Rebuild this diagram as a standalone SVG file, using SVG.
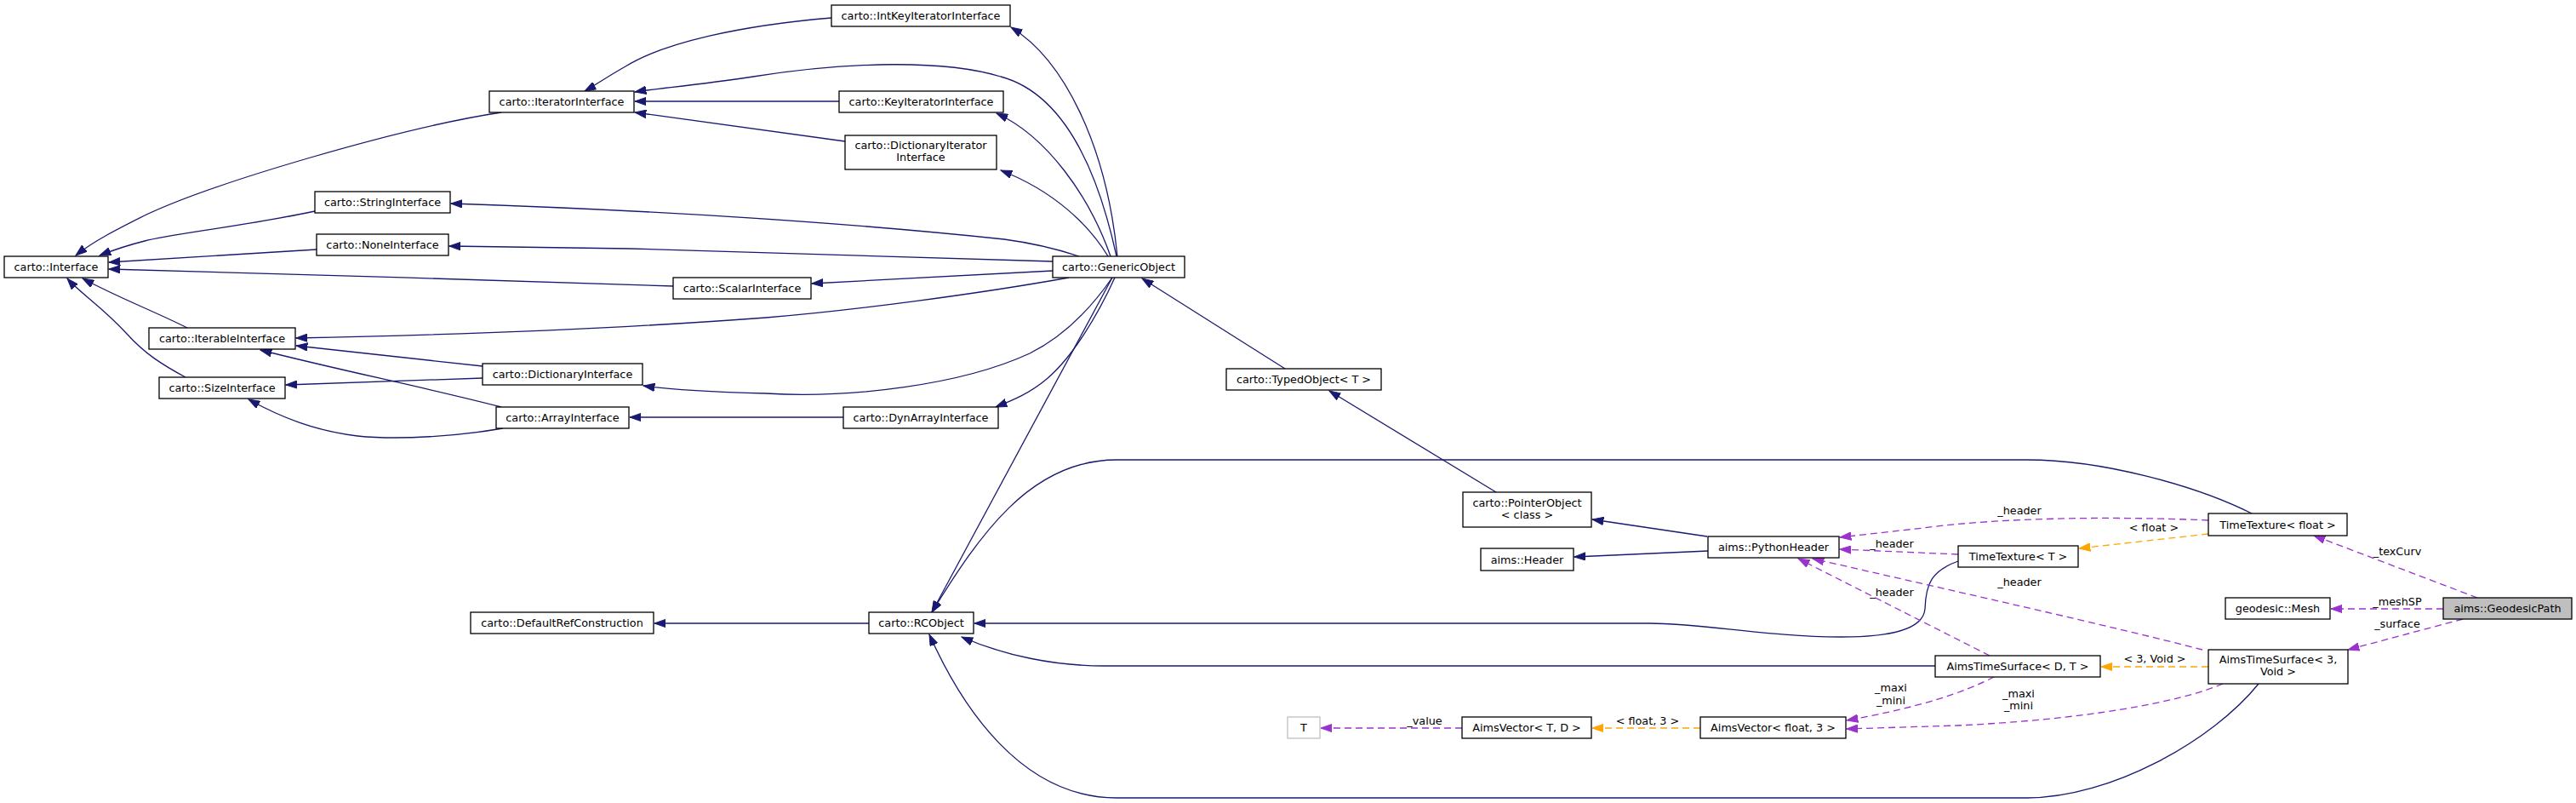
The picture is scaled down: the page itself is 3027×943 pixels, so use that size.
<svg xmlns="http://www.w3.org/2000/svg" width="3027" height="943" viewBox="0 0 3027 943">
<defs>
<style>
text{font-family:"DejaVu Sans","Liberation Sans",sans-serif;font-size:12.8px;fill:#000;text-anchor:middle}
.n rect{fill:#fff;stroke:#000;stroke-width:1.3}
.n rect.focus{fill:#bfbfbf}
.n rect.undoc{stroke:#bfbfbf}
.e path{fill:none;stroke-width:1.3}
.inh{stroke:#191970;marker-end:url(#aB)}
.use{stroke:#9a32cd;stroke-dasharray:8,5;marker-end:url(#aP)}
.tpl{stroke:#ffa500;stroke-dasharray:8,5;marker-end:url(#aO)}
</style>
<marker id="aB" markerUnits="userSpaceOnUse" markerWidth="14" markerHeight="10" viewBox="0 0 14 10" refX="13.3" refY="5" orient="auto"><path d="M0,0.3 L13.3,5 L0,9.7 z" fill="#191970" stroke="#191970"/></marker>
<marker id="aP" markerUnits="userSpaceOnUse" markerWidth="14" markerHeight="10" viewBox="0 0 14 10" refX="13.3" refY="5" orient="auto"><path d="M0,0.3 L13.3,5 L0,9.7 z" fill="#9a32cd" stroke="#9a32cd"/></marker>
<marker id="aO" markerUnits="userSpaceOnUse" markerWidth="14" markerHeight="10" viewBox="0 0 14 10" refX="13.3" refY="5" orient="auto"><path d="M0,0.3 L13.3,5 L0,9.7 z" fill="#ffa500" stroke="#ffa500"/></marker>
</defs>
<rect x="0" y="0" width="3027" height="943" fill="#fff"/>
<g id="connectors" class="e">
<path class="inh" d="M977,21 C870,30 780,50 735,78 C712,91 698,101 687,107"/>
<path class="inh" d="M1312,301 C1290,200 1250,110 1176,90 C1110,70 1000,72 885,90 C820,100 770,104 746,108"/>
<path class="inh" d="M986,119 L746,119"/>
<path class="inh" d="M993,166 L746,132"/>
<path class="inh" d="M1313,301 C1300,170 1250,70 1188,32"/>
<path class="inh" d="M1305,301 C1280,230 1230,160 1171,133"/>
<path class="inh" d="M1302,301 C1280,265 1240,225 1176,200"/>
<path class="inh" d="M1268,301 C1235,290 1210,285 1180,281 C1000,262 800,248 530,239"/>
<path class="inh" d="M1237,307 L740,292 L528,289"/>
<path class="inh" d="M791,336 C600,330 300,320 128,316"/>
<path class="inh" d="M1237,318 L954,333"/>
<path class="inh" d="M372,293 L128,308"/>
<path class="inh" d="M370,248 C290,265 200,275 170,283 C150,288 135,293 117,300"/>
<path class="inh" d="M589,132 C470,150 250,215 170,253 C140,268 110,283 89,300"/>
<path class="inh" d="M220,385 C180,365 140,350 97,327"/>
<path class="inh" d="M218,443 C190,428 170,415 150,393 C120,360 95,345 79,327"/>
<path class="inh" d="M1256,326 C1150,345 1000,365 900,373 C700,388 500,394 348,397"/>
<path class="inh" d="M567,430 L348,406"/>
<path class="inh" d="M589,478 C500,455 400,435 306,411"/>
<path class="inh" d="M567,444 L336,452"/>
<path class="inh" d="M591,503 C540,512 470,517 420,512 C370,506 330,490 292,469"/>
<path class="inh" d="M1307,326 C1280,365 1250,395 1210,415 C1130,452 1000,468 900,462 C830,460 790,458 756,453"/>
<path class="inh" d="M991,490 L740,490"/>
<path class="inh" d="M1310,326 C1290,370 1260,420 1230,445 C1210,462 1190,470 1170,478"/>
<path class="inh" d="M1307,326 L1095,719"/>
<path class="inh" d="M1510,433 L1342,327"/>
<path class="inh" d="M1758,578 L1562,459"/>
<path class="inh" d="M2006,630 L1871,610"/>
<path class="inh" d="M2007,647 L1850,654"/>
<path class="inh" d="M1021,732 L769,732"/>
<path class="inh" d="M2646,603 C2580,570 2470,540 2382,540 L1312,540 C1210,540 1150,630 1095,719"/>
<path class="inh" d="M2301,659 C2270,670 2263,685 2262,715 C2260,740 2220,748 2163,748 C2080,748 2000,732 1939,732 L1145,732"/>
<path class="inh" d="M2274,782 L1297,782 C1240,782 1180,770 1130,748"/>
<path class="inh" d="M2654,803 C2600,870 2480,937 2382,937 L1312,937 C1200,937 1130,830 1092,745"/>
<path class="use" d="M2595,611 C2480,606 2350,608 2260,620 L2162,631"/>
<path class="use" d="M2301,651 L2162,645"/>
<path class="use" d="M2588,763 C2480,735 2300,695 2130,656"/>
<path class="use" d="M2338,770 L2113,656"/>
<path class="use" d="M2343,795 C2310,812 2260,830 2170,846"/>
<path class="use" d="M2612,803 C2560,825 2450,845 2300,852 L2170,856"/>
<path class="use" d="M1718,855 L1552,855"/>
<path class="tpl" d="M1998,855 L1871,855"/>
<path class="tpl" d="M2595,627 L2443,644"/>
<path class="tpl" d="M2595,783 L2469,783"/>
<path class="use" d="M2911,702 L2719,629"/>
<path class="use" d="M2871,715 L2739,715"/>
<path class="use" d="M2894,727 L2759,763"/>
<text x="2373" y="604">_header</text>
<text x="2223" y="643">_header</text>
<text x="2373" y="688">_header</text>
<text x="2223" y="700">_header</text>
<text x="2222" y="812">_maxi</text>
<text x="2222" y="827">_mini</text>
<text x="2372" y="819">_maxi</text>
<text x="2372" y="833">_mini</text>
<text x="1674" y="851">_value</text>
<text x="1936" y="851">&lt; float, 3 &gt;</text>
<text x="2531" y="624">&lt; float &gt;</text>
<text x="2532" y="778">&lt; 3, Void &gt;</text>
<text x="2817" y="652">_texCurv</text>
<text x="2817" y="711">_meshSP</text>
<text x="2817" y="737">_surface</text>
</g>
<g id="n_Interface" class="n"><rect x="5" y="301" width="122" height="25"/><text x="66" y="318">carto::Interface</text></g>
<g id="n_IteratorInterface" class="n"><rect x="575" y="107" width="170" height="25"/><text x="660" y="124">carto::IteratorInterface</text></g>
<g id="n_IntKeyIteratorInterface" class="n"><rect x="977" y="6" width="210" height="25"/><text x="1082" y="23">carto::IntKeyIteratorInterface</text></g>
<g id="n_KeyIteratorInterface" class="n"><rect x="986" y="107" width="193" height="25"/><text x="1082.5" y="124">carto::KeyIteratorInterface</text></g>
<g id="n_DictionaryIteratorInterface" class="n"><rect x="993" y="159" width="178" height="40"/><text x="1082" y="175">carto::DictionaryIterator</text><text x="1082" y="189">Interface</text></g>
<g id="n_StringInterface" class="n"><rect x="370" y="225" width="159" height="25"/><text x="449.5" y="242">carto::StringInterface</text></g>
<g id="n_NoneInterface" class="n"><rect x="372" y="275" width="155" height="25"/><text x="449.5" y="292">carto::NoneInterface</text></g>
<g id="n_GenericObject" class="n"><rect x="1237" y="301" width="155" height="25"/><text x="1314.5" y="318">carto::GenericObject</text></g>
<g id="n_ScalarInterface" class="n"><rect x="791" y="326" width="162" height="25"/><text x="872" y="343">carto::ScalarInterface</text></g>
<g id="n_IterableInterface" class="n"><rect x="175" y="385" width="172" height="25"/><text x="261" y="402">carto::IterableInterface</text></g>
<g id="n_SizeInterface" class="n"><rect x="187" y="443" width="148" height="25"/><text x="261" y="460">carto::SizeInterface</text></g>
<g id="n_DictionaryInterface" class="n"><rect x="567" y="427" width="188" height="25"/><text x="661" y="444">carto::DictionaryInterface</text></g>
<g id="n_ArrayInterface" class="n"><rect x="583" y="478" width="156" height="25"/><text x="661" y="495">carto::ArrayInterface</text></g>
<g id="n_DynArrayInterface" class="n"><rect x="991" y="478" width="182" height="25"/><text x="1082" y="495">carto::DynArrayInterface</text></g>
<g id="n_TypedObject" class="n"><rect x="1441" y="433" width="182" height="25"/><text x="1532" y="450">carto::TypedObject&lt; T &gt;</text></g>
<g id="n_PointerObject" class="n"><rect x="1719" y="578" width="151" height="41"/><text x="1794.5" y="595">carto::PointerObject</text><text x="1794.5" y="609">&lt; class &gt;</text></g>
<g id="n_Header" class="n"><rect x="1740" y="644" width="109" height="26"/><text x="1794.5" y="661.5">aims::Header</text></g>
<g id="n_PythonHeader" class="n"><rect x="2007" y="630" width="154" height="25"/><text x="2084" y="647">aims::PythonHeader</text></g>
<g id="n_DefaultRefConstruction" class="n"><rect x="553" y="719" width="215" height="25"/><text x="660.5" y="736">carto::DefaultRefConstruction</text></g>
<g id="n_RCObject" class="n"><rect x="1021" y="719" width="123" height="25"/><text x="1082.5" y="736">carto::RCObject</text></g>
<g id="n_T" class="n"><rect class="undoc" x="1513" y="842" width="38" height="25"/><text x="1532" y="859">T</text></g>
<g id="n_AimsVectorTD" class="n"><rect x="1718" y="842" width="152" height="25"/><text x="1794" y="859">AimsVector&lt; T, D &gt;</text></g>
<g id="n_AimsVectorFloat3" class="n"><rect x="1998" y="842" width="171" height="25"/><text x="2083.5" y="859">AimsVector&lt; float, 3 &gt;</text></g>
<g id="n_AimsTimeSurfaceDT" class="n"><rect x="2274" y="770" width="194" height="25"/><text x="2371" y="787">AimsTimeSurface&lt; D, T &gt;</text></g>
<g id="n_AimsTimeSurface3Void" class="n"><rect x="2595" y="763" width="164" height="40"/><text x="2677" y="779">AimsTimeSurface&lt; 3,</text><text x="2677" y="793">Void &gt;</text></g>
<g id="n_TimeTextureT" class="n"><rect x="2301" y="641" width="141" height="25"/><text x="2371.5" y="658">TimeTexture&lt; T &gt;</text></g>
<g id="n_TimeTextureFloat" class="n"><rect x="2595" y="603" width="163" height="26"/><text x="2676.5" y="620.5">TimeTexture&lt; float &gt;</text></g>
<g id="n_GeodesicMesh" class="n"><rect x="2615" y="702" width="123" height="25"/><text x="2676.5" y="719">geodesic::Mesh</text></g>
<g id="n_GeodesicPath" class="n"><rect class="focus" x="2871" y="702" width="151" height="25"/><text x="2946.5" y="719">aims::GeodesicPath</text></g>
</svg>
